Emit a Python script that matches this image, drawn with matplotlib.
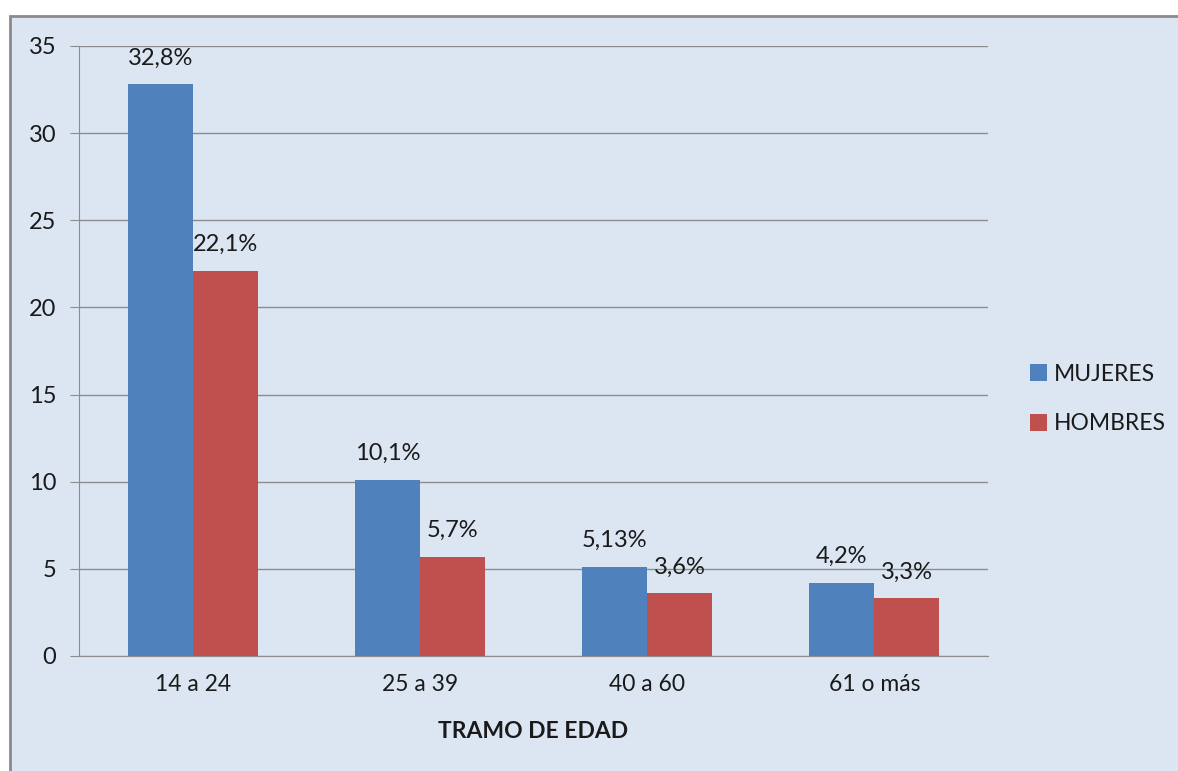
import matplotlib.pyplot as plt
from matplotlib.patches import Rectangle
import numpy as np

plt.rcParams['font.family'] = ['Lato', 'DejaVu Sans']

categorias = ['14 a 24', '25 a 39', '40 a 60', '61 o más']
mujeres = [32.8, 10.1, 5.13, 4.2]
hombres = [22.1, 5.7, 3.6, 3.3]
etiquetas_mujeres = ['32,8%', '10,1%', '5,13%', '4,2%']
etiquetas_hombres = ['22,1%', '5,7%', '3,6%', '3,3%']
yticks = [0, 5, 10, 15, 20, 25, 30, 35]

azul = '#4F81BD'
rojo = '#C0504D'
fondo = '#DCE6F2'
gris = '#8C8C8C'
texto = '#1A1A1A'

fig = plt.figure(figsize=(11.78, 7.71), dpi=100, facecolor='white')
# chart area panel
panel = Rectangle((10 / 1178, -0.1), 1.2, 1 - 16 / 771 + 0.1,
                  transform=fig.transFigure, facecolor=fondo,
                  edgecolor='#8A8A8A', linewidth=2, zorder=-10)
fig.add_artist(panel)

ax = fig.add_axes([79 / 1178, 1 - 656 / 771, 909 / 1178, 610 / 771])
ax.patch.set_alpha(0)

x = np.arange(len(categorias))
w = 0.286
b1 = ax.bar(x - w / 2, mujeres, w, color=azul, label='MUJERES', zorder=3)
b2 = ax.bar(x + w / 2, hombres, w, color=rojo, label='HOMBRES', zorder=3)

for rect, lab in zip(b1, etiquetas_mujeres):
    ax.annotate(lab, (rect.get_x() + rect.get_width() / 2, rect.get_height()),
                xytext=(0, 19), textcoords='offset points', ha='center',
                va='center', fontsize=17, color=texto)
for rect, lab in zip(b2, etiquetas_hombres):
    ax.annotate(lab, (rect.get_x() + rect.get_width() / 2, rect.get_height()),
                xytext=(0, 19), textcoords='offset points', ha='center',
                va='center', fontsize=17, color=texto)

ax.set_xlim(-0.5, len(categorias) - 0.5)
ax.set_ylim(0, 35)
ax.set_yticks(yticks)
ax.set_xticks(x)
ax.set_xticklabels(categorias)
ax.grid(axis='y', color=gris, linewidth=1, zorder=1)
ax.set_axisbelow(True)
for s in ['top', 'right']:
    ax.spines[s].set_visible(False)
ax.spines['left'].set_color(gris)
ax.spines['bottom'].set_color(gris)
ax.tick_params(axis='y', length=6.5, color=gris, labelsize=17, pad=10,
               labelcolor=texto)
ax.tick_params(axis='x', length=0, labelsize=16.5, pad=13, labelcolor=texto)
ax.set_xlabel('TRAMO DE EDAD', fontsize=16.5, fontweight='bold',
              color=texto, labelpad=19)

leg = fig.legend(handles=[b1, b2], loc='center left',
                 bbox_to_anchor=(1009 / 1178, 1 - 399 / 771), frameon=False,
                 fontsize=16.5, handlelength=0.75, handleheight=0.75,
                 handletextpad=0.3, labelspacing=1.25)
for t in leg.get_texts():
    t.set_color(texto)

fig.savefig('out.png', dpi=100, facecolor='white')
